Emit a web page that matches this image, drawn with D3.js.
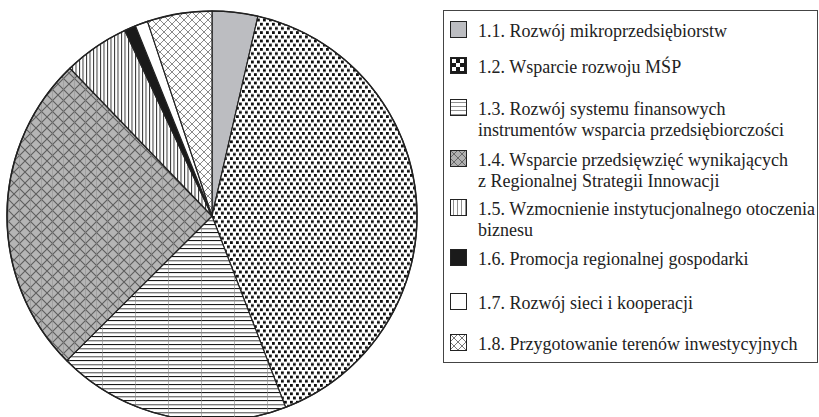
<!DOCTYPE html>
<html>
<head>
<meta charset="utf-8">
<script src="https://cdn.jsdelivr.net/npm/d3@7"></script>
<style>
body { margin:0; background:#fff; }
svg { display:block; }
</style>
</head>
<body>
<div id="chart"></div>
<script>
// działania 1.1 - 1.8, udział w %
var categories = [
	"1.1. Rozwój mikroprzedsiębiorstw",
	"1.2. Wsparcie rozwoju MŚP",
	"1.3. Rozwój systemu finansowych\ninstrumentów wsparcia przedsiębiorczości",
	"1.4. Wsparcie przedsięwzięć wynikających\nz Regionalnej Strategii Innowacji",
	"1.5. Wzmocnienie instytucjonalnego otoczenia\nbiznesu",
	"1.6. Promocja regionalnej gospodarki",
	"1.7. Rozwój sieci i kooperacji",
	"1.8. Przygotowanie terenów inwestycyjnych"
];
var values = [3.6, 40.6, 18.4, 25.3, 5.2, 0.9, 1.0, 5.1];
var fills = ["url(#p11)", "url(#p12)", "url(#p13)", "url(#p14)", "url(#p15)", "#1a1a1a", "#fff", "url(#p18)"];
var legendFills = ["url(#p11)", "url(#l12)", "url(#l13)", "url(#l14)", "url(#l15)", "#1a1a1a", "#fff", "url(#l18)"];
var legendY = [21, 57, 99, 150, 199, 249, 293, 334];

var width = 819, height = 417;
var cx = 212, cy = 216, r = 205;

var svg = d3.select("#chart").append("svg").attr("width", width).attr("height", height);
var defs = svg.append("defs");

function pattern(id, w, h)
{
	return defs.append("pattern").attr("id", id).attr("patternUnits", "userSpaceOnUse")
		.attr("width", w).attr("height", h);
}

// 1.1 szary
pattern("p11", 4, 4).append("rect").attr("width", 4).attr("height", 4).attr("fill", "#bcbdc1");

// 1.2 kropki
var p = pattern("p12", 6, 8.4);
p.append("rect").attr("width", 6).attr("height", 8.4).attr("fill", "#fff");
p.append("rect").attr("x", 0).attr("y", 0).attr("width", 2.8).attr("height", 2.8).attr("fill", "#0d0d0d");
p.append("rect").attr("x", 3).attr("y", 4.2).attr("width", 2.8).attr("height", 2.8).attr("fill", "#0d0d0d");

// 1.3 poziome linie
p = pattern("p13", 33, 8);
p.append("rect").attr("width", 33).attr("height", 8).attr("fill", "#fff");
p.append("rect").attr("x", 0).attr("y", 0).attr("width", 33).attr("height", 1.1).attr("fill", "#1a1a1a");
p.append("rect").attr("x", 0).attr("y", 4).attr("width", 33).attr("height", 1.4).attr("fill", "#7a7a7a");
p.append("rect").attr("x", 22).attr("y", 0).attr("width", 1).attr("height", 8).attr("fill", "#888").attr("opacity", 0.6);

// 1.4 szara kratka ukośna
p = pattern("p14", 11, 11);
p.append("rect").attr("width", 11).attr("height", 11).attr("fill", "#b5b5b5");
p.append("path").attr("d", "M0,0L11,11M11,0L0,11").attr("stroke", "#5e5e5e").attr("stroke-width", 1.1);
p.append("path").attr("d", "M5.5,0V11").attr("stroke", "#8c8c8c").attr("stroke-width", 0.5);

// 1.5 pionowe linie
p = pattern("p15", 3.5, 10);
p.append("rect").attr("width", 3.5).attr("height", 10).attr("fill", "#fff");
p.append("rect").attr("x", 0).attr("width", 1).attr("height", 10).attr("fill", "#333");

// 1.8 biała kratka ukośna
p = pattern("p18", 8, 8);
p.append("rect").attr("width", 8).attr("height", 8).attr("fill", "#fff");
p.append("path").attr("d", "M0,0L8,8M8,0L0,8").attr("stroke", "#8a8a8a").attr("stroke-width", 1);

// wzory w legendzie
p = pattern("l12", 16, 16);
p.append("rect").attr("width", 16).attr("height", 16).attr("fill", "#1a1a1a");
[[2,2],[10,2],[6,6],[2,10],[10,10]].forEach(function(d)
{
	p.append("rect").attr("x", d[0]).attr("y", d[1]).attr("width", 4).attr("height", 4).attr("fill", "#fff");
});
p = pattern("l13", 16, 4);
p.append("rect").attr("width", 16).attr("height", 4).attr("fill", "#fff");
p.append("rect").attr("y", 3.5).attr("width", 16).attr("height", 1.2).attr("fill", "#222");
p = pattern("l15", 4, 16);
p.append("rect").attr("width", 4).attr("height", 16).attr("fill", "#fff");
p.append("rect").attr("x", 3.5).attr("width", 1.2).attr("height", 16).attr("fill", "#222");
p = pattern("l14", 16, 16);
p.append("rect").attr("width", 16).attr("height", 16).attr("fill", "#b0b0b0");
p.append("path").attr("d", "M0,0L16,16M16,0L0,16M0,8L8,0L16,8L8,16Z").attr("stroke", "#555").attr("fill", "none").attr("stroke-width", 0.8);
p = pattern("l18", 16, 16);
p.append("rect").attr("width", 16).attr("height", 16).attr("fill", "#fff");
p.append("path").attr("d", "M0,0L16,16M16,0L0,16M0,8L8,0L16,8L8,16Z").attr("stroke", "#555").attr("fill", "none").attr("stroke-width", 0.8);

// wykres kołowy
var pie = d3.pie().sort(null).value(function(d) { return d; });
var arc = d3.arc().innerRadius(0).outerRadius(r);

var g = svg.append("g").attr("transform", "translate(" + cx + "," + cy + ")");
g.selectAll("path.slice").data(pie(values)).enter().append("path")
	.attr("class", "slice")
	.attr("d", arc)
	.attr("fill", function(d, i) { return fills[i]; })
	.attr("stroke", "#222")
	.attr("stroke-width", 1.2)
	.attr("stroke-linejoin", "round");
g.append("circle").attr("r", r).attr("fill", "none").attr("stroke", "#222").attr("stroke-width", 1.5);

// legenda
svg.append("rect").attr("x", 443.5).attr("y", 10.5).attr("width", 374).attr("height", 352)
	.attr("fill", "#fff").attr("stroke", "#444").attr("stroke-width", 1);

var items = svg.selectAll("g.item").data(categories).enter().append("g")
	.attr("class", "item")
	.attr("transform", function(d, i) { return "translate(450," + legendY[i] + ")"; });

items.append("rect").attr("x", 0.5).attr("y", 0.5).attr("width", 16).attr("height", 16)
	.attr("fill", function(d, i) { return legendFills[i]; })
	.attr("stroke", "#222").attr("stroke-width", 1);

items.append("text")
	.attr("font-family", "Liberation Serif")
	.attr("font-size", 18)
	.attr("fill", "#222")
	.each(function(d)
	{
		var t = d3.select(this);
		d.split("\n").forEach(function(line, k)
		{
			t.append("tspan").attr("x", 28).attr("y", 16 + k * 20.5).text(line);
		});
	});
</script>
</body>
</html>
